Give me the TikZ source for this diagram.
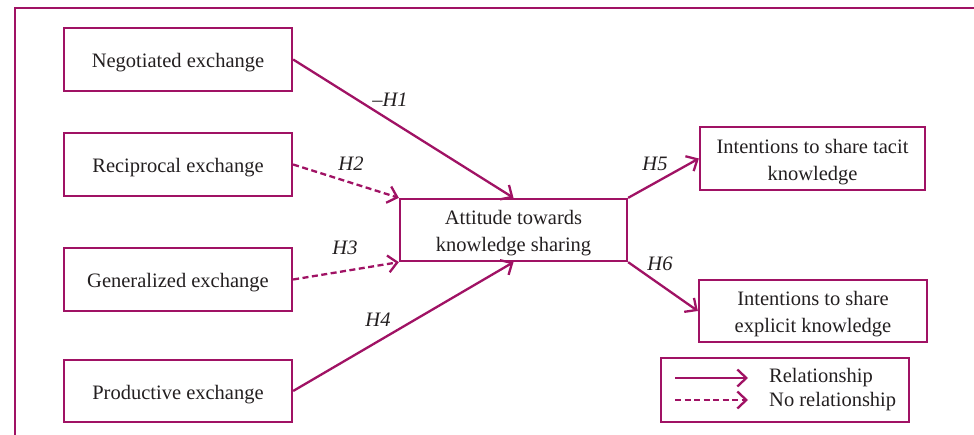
\documentclass[tikz,border=0pt]{standalone}
\usepackage{fontspec}
\setmainfont{Liberation Serif}
\usetikzlibrary{arrows.meta}
\definecolor{mag}{RGB}{160,18,100}
\definecolor{txt}{RGB}{35,31,32}
\newcommand{\topstrut}{\rule{0pt}{21pt}}
\begin{document}
\begin{tikzpicture}[x=1pt,y=-1pt,
  box/.style={draw=mag,line width=2.3pt,inner sep=0pt,text=txt,align=center,
    font=\fontsize{20.5}{27}\selectfont},
  rel/.style={draw=mag,line width=2.3pt,-{Straight Barb[length=9pt,width=17pt,line width=2.3pt]}},
  norel/.style={rel,dash pattern=on 6pt off 3.5pt},
  lab/.style={text=txt,font=\fontsize{20.5}{24}\selectfont\itshape,inner sep=0pt},
  legtext/.style={text=txt,font=\fontsize{20.5}{24}\selectfont,inner sep=0pt,anchor=west}]
\useasboundingbox (0,0) rectangle (974,435);
\begin{scope}
\clip (0,0) rectangle (974,435);
\draw[mag,line width=2.8pt] (15,8) rectangle (990,460);
\end{scope}
\node[box,minimum width=228pt,minimum height=63pt] (neg) at (178,59.5) {\topstrut Negotiated exchange};
\node[box,minimum width=228pt,minimum height=63pt] (rec) at (178,164.5) {\topstrut Reciprocal exchange};
\node[box,minimum width=228pt,minimum height=63pt] (gen) at (178,279.5) {\topstrut Generalized exchange};
\node[box,minimum width=228pt,minimum height=62pt] (pro) at (178,391) {\topstrut Productive exchange};
\node[box,minimum width=227pt,minimum height=62pt] (att) at (513.5,230) {\topstrut Attitude towards\\knowledge sharing};
\node[box,minimum width=225pt,minimum height=63pt] (tac) at (812.5,158.5) {\topstrut Intentions to share tacit\\knowledge};
\node[box,minimum width=228pt,minimum height=62pt] (exp) at (813,311) {\topstrut Intentions to share\\explicit knowledge};
\node[draw=mag,line width=1.6pt,minimum width=248pt,minimum height=64pt,inner sep=0pt] (leg) at (785,390) {};
\draw[rel] (neg.east) -- (att.north);
\draw[norel] (rec.east) -- (att.north west);
\draw[norel] (gen.east) -- (att.south west);
\draw[rel] (pro.east) -- (att.south);
\draw[rel] (att.north east) -- (tac.west);
\draw[rel] (att.south east) -- (exp.west);
\node[lab] (l1) at (390,100) {--H1};
\node[lab] (l2) at (351,164) {H2};
\node[lab] (l3) at (345,248) {H3};
\node[lab] (l4) at (378,320) {H4};
\node[lab] (l5) at (655,164) {H5};
\node[lab] (l6) at (660,264) {H6};
\coordinate (a1) at (675,378);
\coordinate (b1) at (748,378);
\coordinate (a2) at (675,400);
\coordinate (b2) at (748,400);
\draw[rel] (a1) -- (b1);
\draw[norel] (a2) -- (b2);
\node[legtext] (t1) at (769,377.5) {Relationship};
\node[legtext] (t2) at (769,402) {No relationship};
\end{tikzpicture}
\end{document}
